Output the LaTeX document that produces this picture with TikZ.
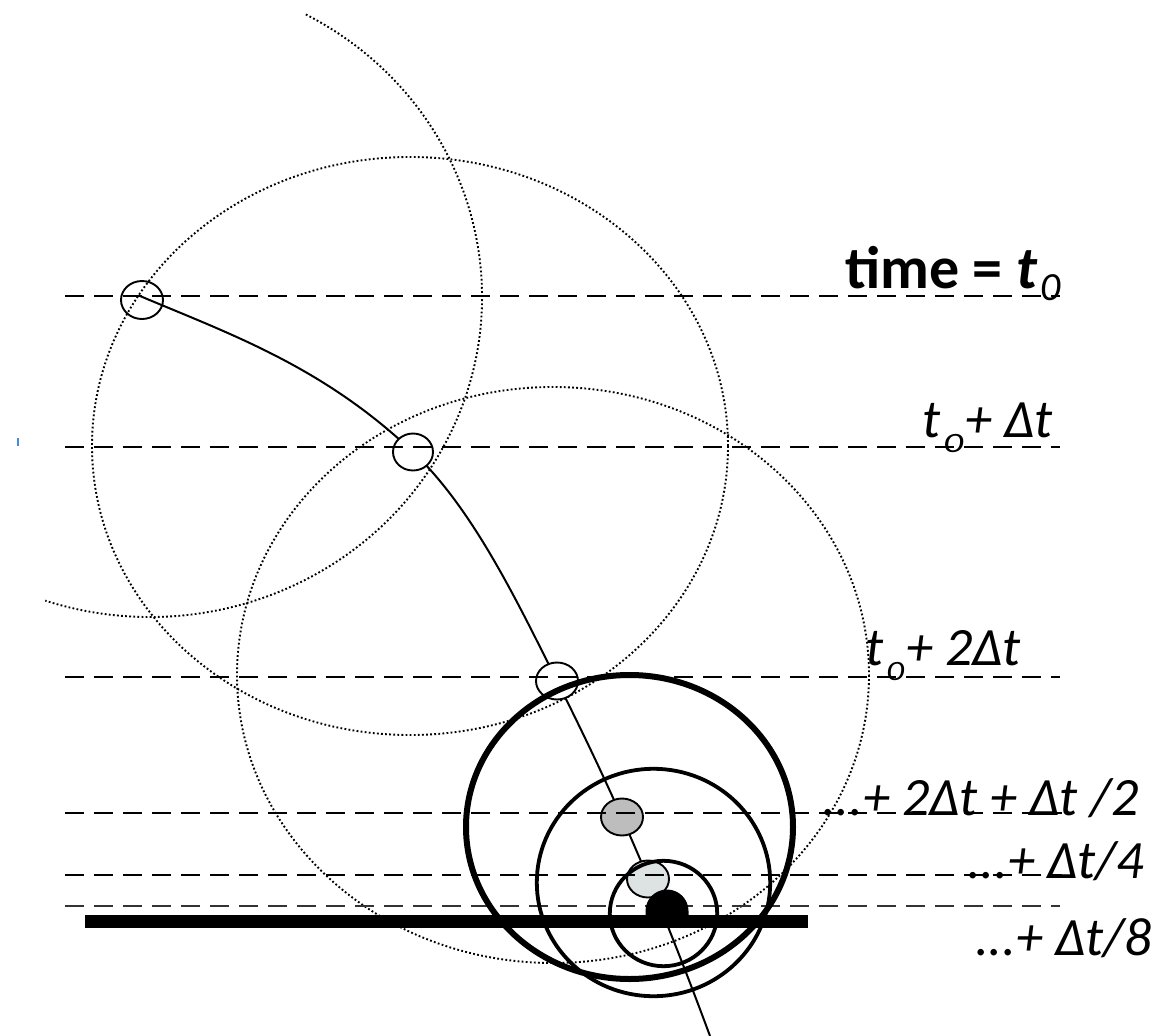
\documentclass[tikz,border=0pt]{standalone}
\usepackage{fontspec}
\setmainfont{Carlito}
\usetikzlibrary{shapes.geometric}
\newcommand{\zsub}[3]{\hspace{3pt}\raisebox{#1}{\scalebox{#3}[1]{\fontsize{#2}{#2}\selectfont\itshape 0}}}
\begin{document}
\begin{tikzpicture}[x=1pt,y=-1pt,
  dotcirc/.style={line width=1.9pt, dash pattern=on 1.8pt off 2.3pt, black},
  guide/.style={line width=2.7pt, dash pattern=on 19pt off 10pt},
  guidethin/.style={line width=2.3pt, dash pattern=on 19pt off 10pt},
  guidefine/.style={line width=1.8pt, dash pattern=on 19pt off 10pt, black!80},
  ball/.style={ellipse, draw, line width=1.9pt, inner sep=0pt, minimum width=42pt, minimum height=37pt},
  trail/.style={line width=2pt},
  ringbig/.style={line width=6pt},
  ring/.style={line width=3.8pt},
  lbl/.style={anchor=base west, inner sep=0pt, font=\fontsize{54}{62}\selectfont\itshape},
  toplbl/.style={anchor=base west, inner sep=0pt, font=\fontsize{60}{70}\selectfont}
]
\useasboundingbox (0,0) rectangle (1165,1036);

% dotted construction circles
\draw[dotcirc] (150,297) ++(-62:332 and 320) arc[start angle=-62, end angle=108.4, x radius=332, y radius=320];
\draw[dotcirc] (410,446) ellipse[x radius=318, y radius=289];
\draw[dotcirc] (553,675) ellipse[x radius=316, y radius=288];

% trajectory
\coordinate (p0) at (140,296);
\coordinate (p3) at (413,452);
\coordinate (p5) at (557,681);
\coordinate (p9) at (710,1036);
\draw[trail] (p0) .. controls (230,334) and (323,366.5) .. (p3)
                  .. controls (473,509) and (517,601) .. (p5)
                  .. controls (607,781) and (650,874) .. (p9);

% balls
\node[ball, minimum width=42pt, minimum height=38pt] (b1) at (142,300) {};
\node[ball, fill=white, minimum width=40pt, minimum height=37pt] (b2) at (413,452) {};
\node[ball, fill=white] (b3) at (557,681) {};
\node[ball, fill=black!26] (b4) at (622,817) {};
\node[ball, fill={rgb,255:red,221;green,227;blue,227}] (b5) at (648,879) {};

% time lines
\draw[guide] (65,296) coordinate (l1a) -- (1060,296) coordinate (l1b);
\draw[guide] (65,447) coordinate (l2a) -- (1060,447) coordinate (l2b);
\draw[guide] (65,677) coordinate (l3a) -- (1060,677) coordinate (l3b);
\draw[guidethin] (65,813) coordinate (l4a) -- (1062,813) coordinate (l4b);
\draw[guidethin] (65,875) coordinate (l5a) -- (1062,875) coordinate (l5b);
\draw[guidefine] (65,906) coordinate (l6a) -- (1060,906) coordinate (l6b);

% ground bar and landed ball
\fill (85,915) rectangle (808,928);
\fill (645.5,916) -- (645.5,911) arc[start angle=180, end angle=360, radius=21.5] -- (688.5,916) -- cycle;
\coordinate (b6) at (667,905);

% thick rings
\draw[ringbig] (629.5,827) ellipse[x radius=163.5, y radius=152];
\draw[ring] (653.5,882.5) ellipse[x radius=116.7, y radius=113.7];
\draw[ring] (663.5,913.5) ellipse[x radius=53.7, y radius=52.7];

% stray blue tick
\draw[line width=1.5pt, color={rgb,255:red,70;green,140;blue,220}] (18,438) -- (18,446);

% labels
\node[toplbl] (t1) at (845,288) {\textbf{time =} \textbf{\textit{t}}\zsub{-12pt}{40}{1}};
\node[lbl] (t2) at (922,437) {t\zsub{-15pt}{28}{1.4}\hspace{2pt}+ Δt};
\node[lbl] (t3) at (865,665) {t\zsub{-15pt}{28}{1.25}\hspace{2pt}+ 2Δt};
\node[lbl] (t4) at (822,815) {...+ 2Δt + Δt /2};
\node[lbl] (t5) at (967,878) {...+ Δt/4};
\node[lbl] (t6) at (975,955) {...+ Δt/8};
\end{tikzpicture}
\end{document}
